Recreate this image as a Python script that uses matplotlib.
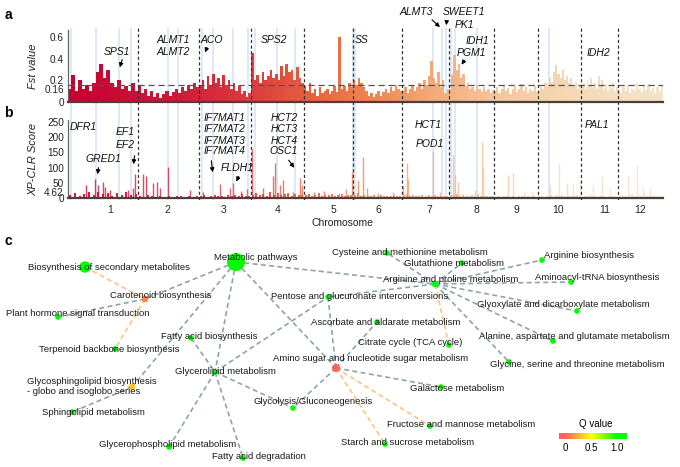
import numpy as np
import matplotlib
matplotlib.use('Agg')
import matplotlib.pyplot as plt
from matplotlib.colors import LinearSegmentedColormap, Normalize
import matplotlib.transforms as mtransforms

plt.rcParams['font.family'] = ['Liberation Sans', 'DejaVu Sans']

W, H = 680, 467

# ---------------- data: panels a / b ----------------
chrom_names = ['1', '2', '3', '4', '5', '6', '7', '8', '9', '10', '11', '12']
chrom_len = [70, 61, 52, 53, 49, 49, 47, 45, 44, 43, 37, 45]   # Mb
chrom_label_pos = [42, 99, 156, 210, 265, 310, 361, 408, 448, 490, 537, 572]  # genome Mb

fst_chr1 = [0.12, 0.25, 0.10, 0.20, 0.12, 0.16, 0.10, 0.18, 0.28, 0.35, 0.22, 0.30, 0.18, 0.14, 0.20, 0.12, 0.15, 0.10, 0.18, 0.10]
fst_chr2 = [0.15, 0.08, 0.12, 0.06, 0.10, 0.05, 0.08, 0.04, 0.07, 0.10, 0.06, 0.09, 0.12, 0.08, 0.14, 0.10, 0.16, 0.12, 0.18, 0.14]
fst_chr3 = [0.15, 0.20, 0.12, 0.24, 0.16, 0.26, 0.18, 0.22, 0.14, 0.25, 0.16, 0.20, 0.12, 0.18, 0.10, 0.15, 0.07, 0.10, 0.05, 0.08]
fst_chr4 = [0.45, 0.20, 0.25, 0.18, 0.28, 0.20, 0.24, 0.30, 0.22, 0.26, 0.20, 0.33, 0.24, 0.35, 0.28, 0.30, 0.20, 0.32, 0.22, 0.18]
fst_chr5 = [0.15, 0.10, 0.18, 0.08, 0.12, 0.06, 0.14, 0.08, 0.10, 0.12, 0.07, 0.10, 0.15, 0.09, 0.60, 0.12, 0.15, 0.10, 0.18, 0.14]
fst_chr6 = [0.20, 0.16, 0.22, 0.18, 0.14, 0.10, 0.06, 0.08, 0.05, 0.07, 0.10, 0.06, 0.09, 0.12, 0.08, 0.14, 0.10, 0.16, 0.12, 0.10]
fst_chr7 = [0.10, 0.14, 0.08, 0.12, 0.16, 0.10, 0.14, 0.18, 0.12, 0.20, 0.16, 0.24, 0.38, 0.22, 0.18, 0.28, 0.14, 0.20, 0.08, 0.12]
fst_chr8 = [0.12, 0.25, 0.43, 0.30, 0.35, 0.22, 0.26, 0.15, 0.18, 0.12, 0.14, 0.10, 0.16, 0.12, 0.09, 0.14, 0.10, 0.12, 0.08, 0.11]
fst_chr9 = [0.10, 0.14, 0.08, 0.12, 0.16, 0.10, 0.13, 0.07, 0.12, 0.15, 0.09, 0.12, 0.17, 0.10, 0.14, 0.08, 0.12, 0.10, 0.15, 0.09]
fst_chr10 = [0.10, 0.14, 0.12, 0.18, 0.15, 0.22, 0.18, 0.28, 0.34, 0.26, 0.22, 0.30, 0.20, 0.24, 0.18, 0.22, 0.15, 0.18, 0.12, 0.16]
fst_chr11 = [0.14, 0.18, 0.12, 0.20, 0.16, 0.22, 0.14, 0.18, 0.12, 0.24, 0.16, 0.20, 0.12, 0.16, 0.10, 0.14, 0.12, 0.18, 0.10, 0.14]
fst_chr12 = [0.12, 0.08, 0.14, 0.10, 0.16, 0.08, 0.12, 0.10, 0.18, 0.12, 0.09, 0.15, 0.11, 0.17, 0.10, 0.13, 0.08, 0.14, 0.10, 0.16]
fst_values = [fst_chr1, fst_chr2, fst_chr3, fst_chr4, fst_chr5, fst_chr6,
              fst_chr7, fst_chr8, fst_chr9, fst_chr10, fst_chr11, fst_chr12]
fst_threshold = 0.16

xp_base_chr1 = [12, 18, 8, 15, 20, 10, 22, 14, 18, 9, 16, 12, 20, 10, 14]
xp_base_chr2 = [8, 5, 10, 6, 4, 8, 5, 7, 4, 6, 9, 5, 7, 4, 6]
xp_base_chr3 = [6, 10, 5, 8, 12, 6, 9, 5, 10, 7, 12, 8, 15, 9, 6]
xp_base_chr4 = [12, 18, 10, 15, 8, 20, 12, 16, 10, 14, 18, 9, 15, 12, 10]
xp_base_chr5 = [10, 14, 8, 12, 16, 9, 12, 10, 15, 8, 12, 14, 9, 12, 10]
xp_base_chr6 = [12, 16, 8, 10, 6, 9, 12, 7, 10, 8, 6, 9, 12, 7, 8]
xp_base_chr7 = [10, 14, 8, 12, 6, 9, 11, 7, 10, 8, 12, 6, 9, 7, 8]
xp_base_chr8 = [12, 10, 15, 8, 10, 6, 9, 12, 7, 14, 8, 6, 9, 7, 8]
xp_base_chr9 = [5, 8, 4, 6, 9, 5, 7, 4, 6, 8, 5, 7, 4, 6, 5]
xp_base_chr10 = [6, 9, 5, 8, 12, 7, 10, 6, 12, 8, 10, 6, 9, 12, 7]
xp_base_chr11 = [5, 8, 6, 10, 7, 9, 5, 8, 6, 9, 5, 7, 6, 8, 5]
xp_base_chr12 = [8, 12, 6, 10, 14, 8, 12, 9, 14, 8, 10, 6, 9, 7, 8]
xp_base = [xp_base_chr1, xp_base_chr2, xp_base_chr3, xp_base_chr4, xp_base_chr5, xp_base_chr6,
           xp_base_chr7, xp_base_chr8, xp_base_chr9, xp_base_chr10, xp_base_chr11, xp_base_chr12]

xp_peak_chrom = [1, 1, 1, 1, 1, 1, 1, 1, 1,
                 2, 2, 2, 2, 2, 2, 2,
                 3, 3, 3, 3, 3, 3,
                 4, 4, 4, 4, 4, 4, 4, 4, 4,
                 5, 5, 5, 5, 5,
                 6, 6, 6, 6, 6,
                 7, 7, 7, 7, 7,
                 8, 8, 8, 8, 8, 8,
                 9, 9, 9, 9,
                 10, 10, 10, 10, 10,
                 11, 11, 11,
                 12, 12, 12, 12]
xp_peak_pos = [18, 27, 30, 35, 37, 42, 60, 65, 67,
               5, 8, 15, 19, 22, 30, 52,
               4, 21, 31, 34, 42, 48,
               1, 12, 22, 24, 29, 32, 42, 49, 51,
               10, 20, 35, 42, 48,
               5, 10, 14, 25, 40,
               1, 5, 6, 31, 38,
               4, 6, 9, 26, 33, 34,
               14, 19, 30, 38,
               12, 21, 29, 35, 42,
               12, 21, 29,
               10, 19, 25, 32]
xp_peak_val = [43, 63, 43, 52, 38, 27, 27, 33, 78,
               79, 74, 49, 52, 33, 103, 27,
               20, 46, 33, 49, 25, 30,
               161, 33, 71, 114, 43, 60, 22, 65, 43,
               20, 25, 18, 30, 85,
               60, 136, 33, 18, 20,
               43, 114, 63, 154, 20,
               141, 76, 54, 27, 183, 103,
               76, 82, 20, 22,
               43, 111, 49, 43, 57,
               43, 74, 33,
               74, 109, 38, 33]
xp_threshold = 4.62

gene_chrom = [1, 1, 1, 1, 2, 2, 3, 3, 3, 3, 4, 4, 4, 5, 6, 7, 7, 7, 8, 8, 8, 10]
gene_pos = [3, 28, 51, 63, 30, 40, 3, 14, 34, 49, 4, 26, 44, 49, 2, 31, 40, 44, 2, 6, 28, 11]

# ---------------- data: panel c (network) ----------------
node_names = ['Metabolic pathways', 'Biosynthesis of secondary metabolites', 'Carotenoid biosynthesis',
              'Plant hormone signal transduction', 'Fatty acid biosynthesis', 'Terpenoid backbone biosynthesis',
              'Glycerolipid metabolism', 'Glycosphingolipid biosynthesis\n- globo and isoglobo series',
              'Sphingolipid metabolism', 'Glycolysis/Gluconeogenesis', 'Glycerophospholipid metabolism',
              'Fatty acid degradation', 'Cysteine and methionine metabolism', 'Glutathione metabolism',
              'Arginine biosynthesis', 'Arginine and proline metabolism', 'Aminoacyl-tRNA biosynthesis',
              'Pentose and glucuronate interconversions', 'Glyoxylate and dicarboxylate metabolism',
              'Ascorbate and aldarate metabolism', 'Alanine, aspartate and glutamate metabolism',
              'Citrate cycle (TCA cycle)', 'Amino sugar and nucleotide sugar metabolism',
              'Glycine, serine and threonine metabolism', 'Galactose metabolism',
              'Fructose and mannose metabolism', 'Starch and sucrose metabolism']
node_q = [1.0, 1.0, 0.12, 1.0, 1.0, 1.0, 1.0, 0.33, 1.0, 1.0, 1.0, 1.0, 1.0, 1.0,
          1.0, 1.0, 1.0, 1.0, 1.0, 1.0, 1.0, 1.0, 0.0, 1.0, 1.0, 1.0, 1.0]
node_genes = [30, 12, 4, 3, 3, 3, 3, 4, 3, 3, 3, 3, 3, 3,
              3, 4, 3, 3, 3, 3, 3, 3, 6, 3, 3, 3, 3]
# layout (pixel positions of the network drawing)
node_x = [236, 85, 145, 58, 191, 115, 215, 132, 72, 293, 169, 243, 387, 462,
          542, 435, 571, 328, 577, 377, 553, 449, 336, 509, 441, 430, 385]
node_y = [262, 267, 299, 317, 338, 349, 372, 387, 412, 408, 447, 458, 253, 263,
          260, 284, 282, 297, 311, 322, 341, 345, 368, 362, 387, 426, 444]
label_x = [256, 109, 161, 78, 209, 109, 225, 27, 93, 313, 168, 259, 410, 454,
           589, 451, 597, 360, 563, 386, 574, 410, 371, 577, 457, 461, 408]
label_y = [257, 267, 295, 313, 336, 349, 371, 386.5, 412, 401, 444, 456, 252, 263,
           255, 279, 277, 296, 304, 322, 336, 342, 358, 364, 388, 424, 442]
edge_src = [0, 0, 0, 0, 0, 2, 4, 6, 6, 6, 6, 22, 22, 22, 22, 15, 15, 15, 15, 15, 15, 15, 15, 7,
            1, 2, 15, 22, 22]
edge_dst = [2, 15, 6, 7, 22, 3, 6, 17, 9, 10, 11, 9, 17, 19, 24, 17, 16, 12, 13, 14, 18, 23, 20, 8,
            2, 5, 21, 25, 26]
edge_kind = ['g'] * 24 + ['o'] * 5

# ---------------- figure ----------------
fig = plt.figure(figsize=(W / 100, H / 100), dpi=100)


def fr(x0, y0, x1, y1):
    return [x0 / W, 1 - y1 / H, (x1 - x0) / W, (y1 - y0) / H]


starts = np.concatenate([[0], np.cumsum(chrom_len)[:-1]])
total = float(np.sum(chrom_len))

gcmap = LinearSegmentedColormap.from_list(
    'gen', [(0.0, '#c4002e'), (0.18, '#d0183a'), (0.33, '#dc443c'), (0.42, '#e7663f'),
            (0.52, '#ee8852'), (0.62, '#f3ab7c'), (0.72, '#f6c59c'), (0.85, '#f5d9b6'),
            (1.0, '#f4e3c8')])

# background overlay (gene lines)
ax_bg = fig.add_axes(fr(68, 28, 663, 200), zorder=-1)
ax_bg.set_xlim(0, total)
ax_bg.set_ylim(0, 1)
ax_bg.axis('off')
for c, p in zip(gene_chrom, gene_pos):
    ax_bg.axvline(starts[c - 1] + p, color='#d3e3f5', lw=1.1)

# front overlay (chromosome boundaries)
ax_fg = fig.add_axes(fr(68, 28, 663, 200), zorder=5)
ax_fg.set_xlim(0, total)
ax_fg.set_ylim(0, 1)
ax_fg.axis('off')
for s in starts[1:]:
    ax_fg.axvline(s, color='#333333', lw=0.9, ls=(0, (2.5, 2.0)))

# panel a
ax_a = fig.add_axes(fr(68, 30, 663, 102))
ax_a.patch.set_alpha(0)
for i in range(12):
    vals = fst_values[i]
    w = chrom_len[i] / len(vals)
    xs = starts[i] + (np.arange(len(vals)) + 0.5) * w
    ax_a.bar(xs, vals, width=w * 1.02, color=gcmap(xs / total), linewidth=0)
ax_a.axhline(fst_threshold, color='#555555', lw=0.9, ls=(0, (5, 3)))
ax_a.set_xlim(0, total)
ax_a.set_ylim(0, 0.665)
ax_a.set_xticks([])
ax_a.set_yticks([0, 0.16, 0.2, 0.4, 0.6])
ax_a.set_yticklabels(['0', '0.16', '0.2', '0.4', '0.6'], fontsize=7.2, color='#222222')
ax_a.tick_params(axis='y', length=0, pad=3)
lab = ax_a.get_yticklabels()[1]
lab.set_transform(lab.get_transform() + mtransforms.ScaledTranslation(0, -4 / 100, fig.dpi_scale_trans))
for sp in ['top', 'right']:
    ax_a.spines[sp].set_visible(False)
ax_a.spines['left'].set_color('#666666')
ax_a.spines['left'].set_linewidth(0.9)
ax_a.spines['bottom'].set_color('#4a4038')
ax_a.spines['bottom'].set_linewidth(1.6)
ax_a.set_ylabel('Fst value', fontsize=8, style='italic', color='#222222')
ax_a.yaxis.set_label_coords(-0.05, 0.5)

# panel b
ax_b = fig.add_axes(fr(68, 120, 663, 198.3))
ax_b.patch.set_alpha(0)
for i in range(12):
    vals = xp_base[i]
    w = chrom_len[i] / len(vals)
    xs = starts[i] + (np.arange(len(vals)) + 0.5) * w
    ax_b.vlines(xs, 0, vals, colors=gcmap(xs / total), lw=1.3)
pk_x = np.array([starts[c - 1] + p for c, p in zip(xp_peak_chrom, xp_peak_pos)])
ax_b.vlines(pk_x, 0, xp_peak_val, colors=gcmap(pk_x / total), lw=1.0, alpha=0.75)
ax_b.set_xlim(0, total)
ax_b.set_ylim(0, 255)
ax_b.set_yticks([0, xp_threshold, 50, 100, 150, 200, 250])
ax_b.set_yticklabels(['0', '4.62', '50', '100', '150', '200', '250'], fontsize=7.2, color='#222222')
ax_b.tick_params(axis='y', length=0, pad=3)
lab = ax_b.get_yticklabels()[1]
lab.set_transform(lab.get_transform() + mtransforms.ScaledTranslation(0, 5 / 100, fig.dpi_scale_trans))
ax_b.set_xticks(chrom_label_pos)
ax_b.set_xticklabels(chrom_names, fontsize=7.5, color='#222222')
ax_b.tick_params(axis='x', length=0, pad=5)
for sp in ['top', 'right']:
    ax_b.spines[sp].set_visible(False)
ax_b.spines['left'].set_color('#666666')
ax_b.spines['left'].set_linewidth(0.9)
ax_b.spines['bottom'].set_color('#4a4038')
ax_b.spines['bottom'].set_linewidth(1.6)
ax_b.set_ylabel('XP-CLR Score', fontsize=8, style='italic', color='#222222')
ax_b.yaxis.set_label_coords(-0.05, 0.5)
ax_b.set_xlabel('Chromosome', fontsize=7.5, color='#222222')
ax_b.xaxis.set_label_coords((342 - 68) / 595, -0.25)


def ftxt(x, y, s, **kw):
    fig.text(x / W, 1 - y / H, s, **kw)


def farrow(x0, y0, x1, y1):
    fig.add_artist(matplotlib.patches.FancyArrowPatch(
        (x0 / W, 1 - y0 / H), (x1 / W, 1 - y1 / H), transform=fig.transFigure,
        arrowstyle='-|>', mutation_scale=6, lw=0.8, color='black', zorder=10))


gkw = dict(fontsize=7.5, style='italic', ha='center', va='center', color='#111111', zorder=10)
gene_labels = [('SPS1', 117, 52), ('ALMT1', 173, 40), ('ALMT2', 173, 52), ('ACO', 212, 40),
               ('SPS2', 274, 40), ('SS', 362, 40), ('ALMT3', 416, 12), ('SWEET1', 464, 12),
               ('PK1', 464, 25), ('IDH1', 477, 41), ('PGM1', 471, 53), ('IDH2', 598, 53),
               ('DFR1', 83, 127), ('EF1', 125, 132), ('EF2', 125, 145), ('GRED1', 103, 159),
               ('IF7MAT1', 225, 118), ('IF7MAT2', 225, 129.5), ('IF7MAT3', 225, 140.5),
               ('IF7MAT4', 225, 151.5), ('FLDH1', 237, 168), ('HCT2', 284, 118), ('HCT3', 284, 129.5),
               ('HCT4', 284, 140.5), ('OSC1', 284, 151.5), ('HCT1', 428, 125), ('POD1', 430, 144),
               ('PAL1', 597, 125)]
for s, x, y in gene_labels:
    ftxt(x, y, s, **gkw)
for a in [(123, 57, 119, 70), (208, 45, 204, 55), (430, 18, 442, 29), (447, 18, 446, 28),
          (466, 58, 460, 67), (135, 153, 133, 167), (99, 165, 97, 177), (211, 158, 213, 175),
          (240, 174, 235, 184), (287, 158, 296, 170)]:
    farrow(*a)

for s, x, y in [('a', 8, 15), ('b', 8, 113), ('c', 8, 241)]:
    ftxt(x, y, s, fontsize=10, fontweight='bold', ha='center', va='center')

# panel c
ax_c = fig.add_axes(fr(0, 235, 680, 467))
ax_c.set_xlim(0, W)
ax_c.set_ylim(467, 235)
ax_c.axis('off')
qcmap = LinearSegmentedColormap.from_list('q', ['#ff6060', '#ffff00', '#00ff00'])
edge_colors = {'g': '#8fa4a8', 'o': '#ffc47a'}
for s, d, k in zip(edge_src, edge_dst, edge_kind):
    ax_c.plot([node_x[s], node_x[d]], [node_y[s], node_y[d]], color=edge_colors[k],
              lw=1.2, ls=(0, (3, 2)), zorder=1)
sizes = np.array(node_genes, dtype=float) * 5.6
ax_c.scatter(node_x, node_y, s=sizes, c=node_q, cmap=qcmap, vmin=0, vmax=1,
             edgecolors='none', zorder=2)
for i, name in enumerate(node_names):
    ha = 'left' if '\n' in name else 'center'
    ax_c.text(label_x[i], label_y[i], name, fontsize=6.8, ha=ha, va='center',
              color='#1a1a1a', zorder=3, linespacing=1.15)

# colorbar
ax_cb = fig.add_axes(fr(559, 433, 627, 439))
grad = np.linspace(-0.115, 1.19, 256)[None, :]
ax_cb.imshow(grad, aspect='auto', cmap=qcmap, norm=Normalize(0, 1),
             extent=[-0.115, 1.19, 0, 1])
ax_cb.set_xlim(-0.115, 1.19)
ax_cb.set_yticks([])
ax_cb.set_xticks([0, 0.5, 1.0])
ax_cb.set_xticklabels(['0', '0.5', '1.0'], fontsize=7)
ax_cb.tick_params(axis='x', length=0, pad=3)
for sp in ax_cb.spines.values():
    sp.set_visible(False)
ftxt(596, 424, 'Q value', fontsize=7, ha='center', va='center')

fig.savefig('out.png', dpi=100)
